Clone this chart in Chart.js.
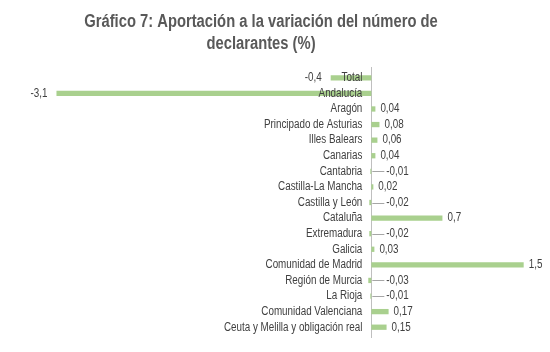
<!DOCTYPE html>
<html>
<head>
<meta charset="utf-8">
<script src="https://cdn.jsdelivr.net/npm/chart.js@4/dist/chart.umd.min.js"></script>
<style>
  html, body { margin: 0; padding: 0; background: #fff; }
  canvas { display: block; }
</style>
</head>
<body>
<canvas id="chart" width="550" height="352"></canvas>
<script>
// data
const titleLines = ['Gráfico 7: Aportación a la variación del número de', 'declarantes (%)'];
const categories = [
    'Total', 'Andalucía', 'Aragón', 'Principado de Asturias', 'Illes Balears', 'Canarias',
    'Cantabria', 'Castilla-La Mancha', 'Castilla y León', 'Cataluña', 'Extremadura', 'Galicia',
    'Comunidad de Madrid', 'Región de Murcia', 'La Rioja', 'Comunidad Valenciana',
    'Ceuta y Melilla y obligación real'
];
const values = [-0.4, -3.1, 0.04, 0.08, 0.06, 0.04, -0.01, 0.02, -0.02, 0.7, -0.02, 0.03, 1.5, -0.03, -0.01, 0.17, 0.15];

const FONT = '"Liberation Sans", Arial, sans-serif';
const TEXT = '#404040';
const NARROW = 0.82; // squeeze to look like Arial Narrow

function fmt(v) {
    return String(v).replace('.', ',');
}

function narrowText(ctx, text, x, y, align) {
    ctx.save();
    ctx.translate(x, y);
    ctx.scale(NARROW, 1);
    ctx.textAlign = align;
    ctx.fillText(text, 0, 0);
    ctx.restore();
}

// title, zero axis, category names next to the axis, value labels
const decorations = {
    id: 'decorations',
    beforeDatasetsDraw(chart) {
        const ctx = chart.ctx;
        const x0 = chart.scales.x.getPixelForValue(0);
        ctx.save();
        ctx.strokeStyle = '#bfbfbf';
        ctx.lineWidth = 1;
        ctx.beginPath();
        ctx.moveTo(Math.round(x0) + 0.5, chart.chartArea.top - 3);
        ctx.lineTo(Math.round(x0) + 0.5, chart.chartArea.bottom + 3);
        ctx.stroke();
        ctx.restore();
    },
    afterDatasetsDraw(chart) {
        const ctx = chart.ctx;
        const xs = chart.scales.x;
        const ys = chart.scales.y;
        const x0 = xs.getPixelForValue(0);
        ctx.save();
        ctx.textBaseline = 'middle';

        // title
        ctx.fillStyle = '#595959';
        ctx.font = 'bold 18px ' + FONT;
        narrowText(ctx, titleLines[0], 261, 22, 'center');
        narrowText(ctx, titleLines[1], 261, 44, 'center');

        ctx.font = '12px ' + FONT;
        ctx.fillStyle = TEXT;
        categories.forEach((name, i) => {
            const y = ys.getPixelForValue(i);
            narrowText(ctx, name, x0 - 9, y, 'right');

            const v = values[i];
            const xe = xs.getPixelForValue(v);
            if (v >= 0) {
                narrowText(ctx, fmt(v), xe + 5, y, 'left');
            } else if (v > -0.1) {
                // small negatives: label pushed right with a leader line
                const lx = x0 + 15;
                ctx.strokeStyle = '#a6a6a6';
                ctx.lineWidth = 1;
                ctx.beginPath();
                ctx.moveTo(x0 + 1, Math.round(y) + 0.5);
                ctx.lineTo(lx - 2, Math.round(y) + 0.5);
                ctx.stroke();
                narrowText(ctx, fmt(v), lx, y, 'left');
            } else {
                narrowText(ctx, fmt(v), xe - 9, y, 'right');
            }
        });
        ctx.restore();
    }
};

new Chart(document.getElementById('chart'), {
    type: 'bar',
    data: {
        labels: categories,
        datasets: [{
            data: values,
            backgroundColor: '#a9d08e',
            borderWidth: 0,
            barPercentage: 0.34,
            categoryPercentage: 1
        }]
    },
    options: {
        indexAxis: 'y',
        responsive: false,
        animation: false,
        maintainAspectRatio: false,
        layout: { padding: { left: 26, right: 6, top: 70, bottom: 17 } },
        plugins: {
            legend: { display: false },
            title: { display: false },
            tooltip: { enabled: false }
        },
        scales: {
            x: { display: false, min: -3.4, max: 1.7 },
            y: { display: false }
        }
    },
    plugins: [decorations]
});
</script>
</body>
</html>
